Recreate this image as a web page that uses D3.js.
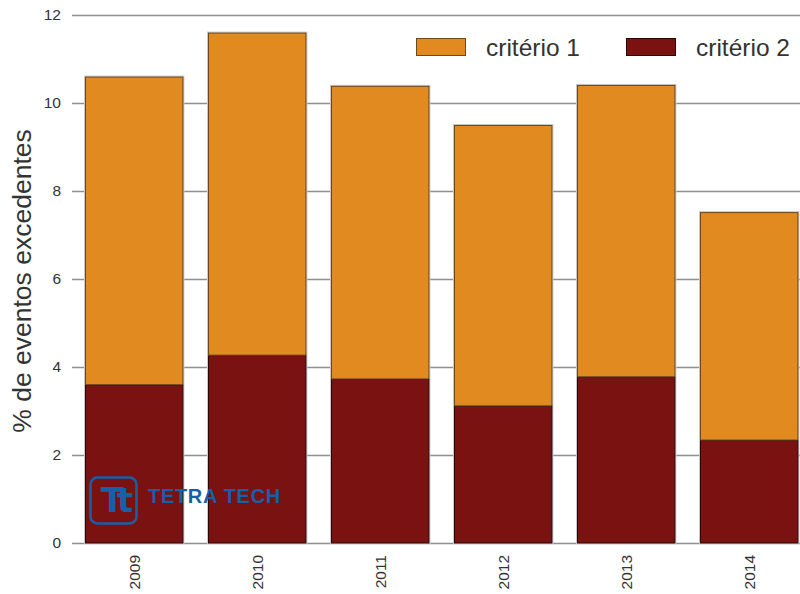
<!DOCTYPE html>
<html>
<head>
<meta charset="utf-8">
<script src="https://cdn.jsdelivr.net/npm/d3@7"></script>
<style>
  html, body { margin: 0; padding: 0; background: #fff; }
  svg { display: block; font-family: "Liberation Sans", Arial, Helvetica, sans-serif; }
</style>
</head>
<body>
<svg id="chart" width="800" height="594"></svg>
<script>
// Anos analisados
const years = ["2009", "2010", "2011", "2012", "2013", "2014"];
// % de eventos excedentes por critério (empilhados: critério 2 na base)
const criterio2 = [3.60, 4.27, 3.73, 3.12, 3.78, 2.34];
const criterio1 = [7.00, 7.33, 6.66, 6.38, 6.63, 5.18];
const seriesNames = ["critério 1", "critério 2"];
const yTicks = [0, 2, 4, 6, 8, 10, 12];

const colors = { "critério 1": "#E08A20", "critério 2": "#7A1212" };
const strokes = { "critério 1": "#6e4818", "critério 2": "#2a0606" };

const svg = d3.select("#chart");
const W = 800, H = 594;
const margin = { left: 72.7, top: 15, bottom: 51 };

const x = d3.scaleBand()
  .domain(years)
  .range([margin.left, margin.left + 738])
  .paddingInner(0.2)
  .paddingOuter(0.1);

const y = d3.scaleLinear()
  .domain([0, 12])
  .range([H - margin.bottom, margin.top]);

// Linhas de grade horizontais
const yAxis = d3.axisLeft(y).tickValues(yTicks).tickSize(-(W - 72)).tickPadding(11).tickFormat(d3.format("d"));
const gY = svg.append("g").attr("transform", "translate(72,0)").call(yAxis);
gY.select(".domain").remove();
gY.selectAll(".tick line").attr("stroke", "#8f8f8f").attr("stroke-width", 1.4);
gY.selectAll(".tick text").attr("fill", "#333").attr("font-size", 15.5)
  .attr("font-family", "'Liberation Sans', Arial, sans-serif");

// Barras empilhadas
const rows = years.map((yr, i) => ({ year: yr, "critério 2": criterio2[i], "critério 1": criterio1[i] }));
const stack = d3.stack().keys(["critério 2", "critério 1"]);
const layers = stack(rows);

// Contorno claro ao redor de cada coluna
svg.append("g").selectAll("rect")
  .data(rows)
  .join("rect")
  .attr("x", d => x(d.year))
  .attr("width", x.bandwidth())
  .attr("y", d => y(d["critério 1"] + d["critério 2"]))
  .attr("height", d => y(0) - y(d["critério 1"] + d["critério 2"]))
  .attr("fill", "none")
  .attr("stroke", "#c8c8c8")
  .attr("stroke-width", 2);

svg.append("g").selectAll("g")
  .data(layers)
  .join("g")
  .attr("fill", d => colors[d.key])
  .attr("stroke", d => strokes[d.key])
  .attr("stroke-width", 1)
  .selectAll("rect")
  .data(d => d)
  .join("rect")
  .attr("x", d => x(d.data.year) + 0.5)
  .attr("width", x.bandwidth() - 1)
  .attr("y", d => y(d[1]) + 0.5)
  .attr("height", d => y(d[0]) - y(d[1]) - 0.5);

// Eixo x com rótulos verticais
const xAxis = d3.axisBottom(x).tickSize(0).tickPadding(0);
const gX = svg.append("g").attr("transform", `translate(0,${H - margin.bottom})`).call(xAxis);
gX.select(".domain").remove();
gX.selectAll(".tick text")
  .attr("fill", "#333")
  .attr("font-size", 15.5)
  .attr("font-family", "'Liberation Sans', Arial, sans-serif")
  .attr("text-anchor", "end")
  .attr("transform", "rotate(-90)")
  .attr("x", -12)
  .attr("y", 0)
  .attr("dy", "0.36em");

// Título do eixo y
svg.append("text")
  .attr("transform", `translate(31,${281}) rotate(-90)`)
  .attr("text-anchor", "middle")
  .attr("fill", "#333")
  .attr("font-size", 26.5)
  .text("% de eventos excedentes");

// Legenda
const legend = svg.append("g");
const legendX = [416, 626];
seriesNames.forEach((name, i) => {
  const g = legend.append("g").attr("transform", `translate(${legendX[i]},38)`);
  g.append("rect").attr("x", 0.5).attr("y", 0.5).attr("width", 49).attr("height", 17)
    .attr("fill", colors[name]).attr("stroke", strokes[name]).attr("stroke-width", 1);
  g.append("text").attr("x", 70).attr("y", 17.5)
    .attr("fill", "#333").attr("font-size", 24.5).text(name);
});

// Logotipo Tetra Tech
const logo = svg.append("g").attr("fill", "#1560a8");
logo.append("rect").attr("x", 90.5).attr("y", 477.5).attr("width", 46).attr("height", 46).attr("rx", 7)
  .attr("fill", "none").attr("stroke", "#1560a8").attr("stroke-width", 2.6);
logo.append("text").attr("x", 113.5).attr("y", 512).attr("text-anchor", "middle")
  .attr("font-size", 34).attr("font-weight", "bold").attr("letter-spacing", -7)
  .attr("font-family", "'DejaVu Sans', 'Liberation Sans', sans-serif")
  .text("Tt");
logo.append("text").attr("x", 148).attr("y", 503)
  .attr("font-size", 20).attr("font-weight", "bold").attr("letter-spacing", 0.7)
  .text("TETRA TECH");
</script>
</body>
</html>
